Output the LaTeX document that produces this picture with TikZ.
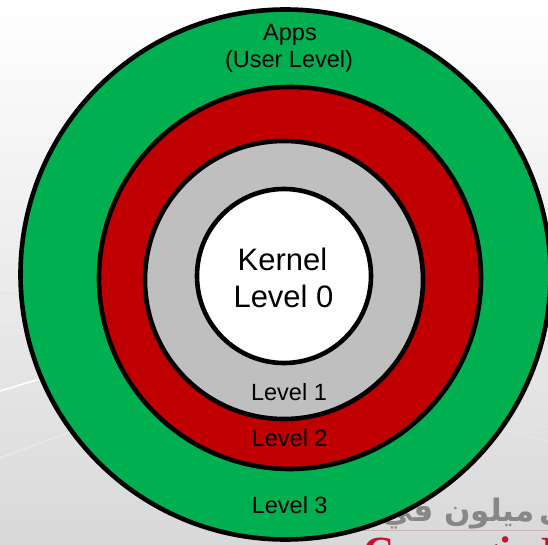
\documentclass[tikz,border=0pt]{standalone}
\usepackage{fontspec}
\setmainfont{Liberation Sans}
\newfontfamily\arabicfont[Script=Arabic]{DejaVu Sans}
\newfontfamily\logoserif{Liberation Serif}
\TeXXeTstate=1
\definecolor{ringgreen}{RGB}{0,176,80}
\definecolor{ringred}{RGB}{192,0,0}
\definecolor{ringgray}{RGB}{191,191,191}
\definecolor{logored}{RGB}{196,18,48}
\definecolor{logogray}{RGB}{135,135,135}
\definecolor{ruleline}{RGB}{205,180,180}
\begin{document}
\begin{tikzpicture}[x=1pt,y=-1pt,
  ring/.style={circle, draw=black, line width=4.6pt, inner sep=0pt, minimum size=#1},
  lab/.style={anchor=base, inner sep=0pt, font=\fontsize{23.5}{28}\selectfont},
  biglab/.style={anchor=base, inner sep=0pt, font=\fontsize{31}{37}\selectfont},
  arabiclogo/.style={inner sep=0pt, text=logogray, font=\arabicfont\bfseries\fontsize{31}{33}\selectfont},
  swoosh/.style={line width=1.4pt, line cap=round}]
\useasboundingbox (0,0) rectangle (548,545);
\clip (0,0) rectangle (548,545);
% slide background
\shade[top color=white, middle color=white, bottom color=black!15] (0,0) rectangle (548,545);
\draw[swoosh, black!10] (0,292) -- (40,297);
\draw[swoosh, black!10] (0,326) -- (40,331);
\draw[swoosh, white, line width=1.6pt] (0,391) -- (50,376);
\draw[swoosh, black!9] (0,458) -- (70,432);
\draw[swoosh, black!10] (495,416) -- (548,427);
\draw[swoosh, black!10] (495,428) -- (548,441);
% watermark logo
\draw[ruleline, line width=0.8pt] (340,530) -- (548,530);
\node[arabiclogo, anchor=base east] (arab) at (535,521) {\beginR ميلون في\endR};
\node[arabiclogo, anchor=base west] (arab2) at (539,521) {\beginR كارنيجي\endR};
\node[anchor=base west, inner sep=0pt, text=logored, font=\logoserif\bfseries\fontsize{43}{45}\selectfont] (cmu) at (363,566) {Carnegie Mellon};
% rings
\node[ring=530pt, fill=ringgreen] (l3) at (285.5,274.5) {};
\node[ring=382pt, fill=ringred] (l2) at (290,278) {};
\node[ring=278pt, fill=ringgray] (l1) at (284,280) {};
\node[ring=174pt, fill=white] (l0) at (284,276) {};
% labels
\node[lab] (apps) at (290,40.7) {Apps};
\node[lab] (user) at (289,68) {(User Level)};
\node[biglab] (kern) at (282.5,270) {Kernel};
\node[biglab] (lv0) at (283.5,307.7) {Level 0};
\node[lab] (lv1) at (289,400.7) {Level 1};
\node[lab] (lv2) at (289.7,446) {Level 2};
\node[lab] (lv3) at (289.7,513.3) {Level 3};
\end{tikzpicture}
\end{document}
